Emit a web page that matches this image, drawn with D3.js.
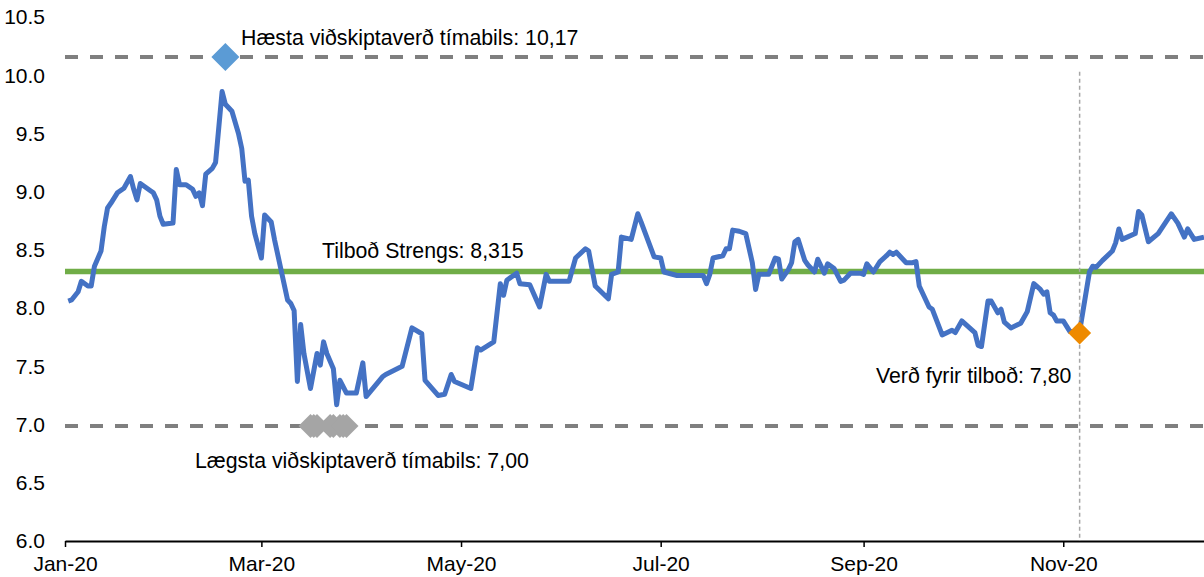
<!DOCTYPE html>
<html>
<head>
<meta charset="utf-8">
<script src="https://cdn.jsdelivr.net/npm/d3@7"></script>
<style>
	body { margin: 0; background: #fff; }
	svg { display: block; font-family: "Liberation Sans", Arial, sans-serif; }
	.axis text { font-size: 21px; fill: #000; }
	.note { font-size: 21.3px; fill: #000; }
</style>
</head>
<body>
<div id="chart"></div>
<script>
// closing price of the share, 2020
var priceDates = [
	"2020-01-02", "2020-01-03", "2020-01-05", "2020-01-06", "2020-01-08", "2020-01-09", "2020-01-10", "2020-01-12",
	"2020-01-13", "2020-01-14", "2020-01-15", "2020-01-17", "2020-01-19", "2020-01-21", "2020-01-22", "2020-01-23",
	"2020-01-24", "2020-01-27", "2020-01-28", "2020-01-29", "2020-01-30", "2020-01-31", "2020-02-03", "2020-02-04",
	"2020-02-05", "2020-02-07", "2020-02-09", "2020-02-10", "2020-02-11", "2020-02-12", "2020-02-13", "2020-02-15",
	"2020-02-16", "2020-02-18", "2020-02-19", "2020-02-21", "2020-02-23", "2020-02-24", "2020-02-25", "2020-02-26",
	"2020-02-27", "2020-02-28", "2020-03-01", "2020-03-02", "2020-03-04", "2020-03-05", "2020-03-07", "2020-03-09",
	"2020-03-10", "2020-03-11", "2020-03-12", "2020-03-13", "2020-03-14", "2020-03-16", "2020-03-18", "2020-03-19",
	"2020-03-20", "2020-03-21", "2020-03-23", "2020-03-24", "2020-03-25", "2020-03-27", "2020-03-30", "2020-04-01",
	"2020-04-02", "2020-04-07", "2020-04-08", "2020-04-13", "2020-04-16", "2020-04-19", "2020-04-20", "2020-04-24",
	"2020-04-26", "2020-04-28", "2020-04-29", "2020-05-04", "2020-05-06", "2020-05-07", "2020-05-11", "2020-05-13",
	"2020-05-14", "2020-05-15", "2020-05-18", "2020-05-19", "2020-05-22", "2020-05-25", "2020-05-27", "2020-05-28",
	"2020-06-03", "2020-06-05", "2020-06-08", "2020-06-09", "2020-06-11", "2020-06-15", "2020-06-16", "2020-06-18",
	"2020-06-19", "2020-06-22", "2020-06-24", "2020-06-25", "2020-06-29", "2020-07-01", "2020-07-02", "2020-07-06",
	"2020-07-14", "2020-07-15", "2020-07-16", "2020-07-17", "2020-07-20", "2020-07-21", "2020-07-22", "2020-07-23",
	"2020-07-25", "2020-07-27", "2020-07-29", "2020-07-30", "2020-07-31", "2020-08-03", "2020-08-05", "2020-08-06",
	"2020-08-07", "2020-08-09", "2020-08-10", "2020-08-11", "2020-08-12", "2020-08-14", "2020-08-15", "2020-08-17",
	"2020-08-18", "2020-08-20", "2020-08-21", "2020-08-23", "2020-08-25", "2020-08-26", "2020-08-28", "2020-08-31",
	"2020-09-01", "2020-09-02", "2020-09-04", "2020-09-06", "2020-09-08", "2020-09-09", "2020-09-10", "2020-09-11",
	"2020-09-14", "2020-09-16", "2020-09-17", "2020-09-18", "2020-09-21", "2020-09-22", "2020-09-25", "2020-09-28",
	"2020-09-29", "2020-10-01", "2020-10-05", "2020-10-06", "2020-10-07", "2020-10-09", "2020-10-10", "2020-10-12",
	"2020-10-13", "2020-10-14", "2020-10-16", "2020-10-19", "2020-10-21", "2020-10-23", "2020-10-25", "2020-10-26",
	"2020-10-27", "2020-10-28", "2020-10-29", "2020-10-30", "2020-11-01", "2020-11-03", "2020-11-06", "2020-11-09",
	"2020-11-10", "2020-11-11", "2020-11-13", "2020-11-16", "2020-11-17", "2020-11-18", "2020-11-19", "2020-11-23",
	"2020-11-24", "2020-11-25", "2020-11-27", "2020-11-30", "2020-12-04", "2020-12-06", "2020-12-08", "2020-12-09",
	"2020-12-11", "2020-12-14"
];
var priceValues = [
	8.06, 8.07, 8.14, 8.23, 8.19, 8.19, 8.36, 8.49,
	8.70, 8.86, 8.90, 8.99, 9.03, 9.13, 9.02, 8.93,
	9.07, 9.01, 8.99, 8.93, 8.79, 8.72, 8.73, 9.19,
	9.06, 9.06, 9.02, 8.96, 8.99, 8.88, 9.15, 9.20,
	9.25, 9.86, 9.75, 9.69, 9.50, 9.37, 9.09, 9.10,
	8.79, 8.64, 8.43, 8.80, 8.74, 8.59, 8.33, 8.07,
	8.04, 7.98, 7.37, 7.86, 7.61, 7.31, 7.61, 7.51,
	7.71, 7.61, 7.48, 7.17, 7.38, 7.27, 7.27, 7.53,
	7.24, 7.41, 7.43, 7.50, 7.83, 7.78, 7.38, 7.25,
	7.26, 7.43, 7.37, 7.31, 7.66, 7.64, 7.71, 8.21,
	8.11, 8.24, 8.30, 8.21, 8.20, 8.01, 8.29, 8.23,
	8.23, 8.43, 8.51, 8.49, 8.19, 8.08, 8.29, 8.31,
	8.61, 8.59, 8.81, 8.74, 8.44, 8.43, 8.31, 8.28,
	8.28, 8.21, 8.29, 8.43, 8.45, 8.51, 8.51, 8.67,
	8.66, 8.64, 8.39, 8.16, 8.29, 8.29, 8.43, 8.42,
	8.25, 8.33, 8.39, 8.57, 8.59, 8.41, 8.37, 8.31,
	8.42, 8.30, 8.38, 8.34, 8.23, 8.24, 8.30, 8.30,
	8.29, 8.38, 8.31, 8.40, 8.45, 8.48, 8.46, 8.48,
	8.39, 8.39, 8.40, 8.19, 8.01, 7.99, 7.77, 7.81,
	7.79, 7.89, 7.79, 7.68, 7.67, 8.06, 8.06, 7.96,
	7.99, 7.88, 7.83, 7.87, 7.97, 8.21, 8.16, 8.12,
	8.14, 7.96, 7.94, 7.89, 7.89, 7.80, 7.80, 8.31,
	8.36, 8.35, 8.41, 8.49, 8.56, 8.68, 8.59, 8.64,
	8.83, 8.80, 8.57, 8.64, 8.81, 8.73, 8.61, 8.68,
	8.59, 8.61
];

// reference levels
var highPrice = 10.17;
var lowPrice = 7.00;
var offerPrice = 8.315;
var preOfferPrice = 7.80;

var highDates = ["2020-02-19"];
var lowDates = ["2020-03-16", "2020-03-17", "2020-03-18", "2020-03-22", "2020-03-23", "2020-03-25", "2020-03-26", "2020-03-27"];
var preOfferDate = "2020-11-06";

var xDomain = ["2020-01-01", "2020-12-14"];
var xTickDates = ["2020-01-01", "2020-03-01", "2020-05-01", "2020-07-01", "2020-09-01", "2020-11-01"];
var yTicks = [6.0, 6.5, 7.0, 7.5, 8.0, 8.5, 9.0, 9.5, 10.0, 10.5];

var labelHigh = "Hæsta viðskiptaverð tímabils: 10,17";
var labelLow = "Lægsta viðskiptaverð tímabils: 7,00";
var labelOffer = "Tilboð Strengs: 8,315";
var labelPreOffer = "Verð fyrir tilboð: 7,80";

function Chart (targetDomElement) {
	var chartObject = {};
	var parseDate = d3.timeParse("%Y-%m-%d");

	var width = 1204;
	var height = 577;
	var left = 65;
	var right = 1204;
	var top = 17;
	var bottom = 541;
	var svg, x, y;

	function constructor (targetDomElement) {
		svg = d3.select(targetDomElement)
			.append("svg")
			.attr("width", width)
			.attr("height", height);

		x = d3.scaleTime()
			.domain(xDomain.map(parseDate))
			.range([left, right]);

		y = d3.scaleLinear()
			.domain([6, 10.5])
			.range([bottom, top]);

		return chartObject;
	}

	chartObject.render = function () {
		var series = priceDates.map(function (d, i) {
			return { date: parseDate(d), value: priceValues[i] };
		});

		// y labels only, no axis line
		svg.append("g")
			.attr("class", "axis")
			.selectAll("text")
			.data(yTicks)
			.enter()
			.append("text")
			.attr("x", 45)
			.attr("y", function (d) { return y(d); })
			.attr("dy", "0.35em")
			.attr("text-anchor", "end")
			.text(d3.format(".1f"));

		// x axis
		var xAxis = svg.append("g")
			.attr("class", "axis")
			.attr("transform", "translate(0," + bottom + ")")
			.call(d3.axisBottom(x)
				.tickValues(xTickDates.map(parseDate))
				.tickFormat(d3.timeFormat("%b-%y"))
				.tickSize(6)
				.tickPadding(9)
				.tickSizeOuter(0));
		xAxis.select(".domain").attr("stroke", "#000").attr("stroke-width", 2);
		xAxis.selectAll(".tick line").attr("stroke", "#000").attr("stroke-width", 1.5);
		xAxis.selectAll(".tick text").attr("font-family", null).attr("font-size", null);

		// dashed high / low levels
		svg.selectAll(".level")
			.data([highPrice, lowPrice])
			.enter()
			.append("line")
			.attr("class", "level")
			.attr("x1", left)
			.attr("x2", right)
			.attr("y1", function (d) { return y(d) + 1.5; })
			.attr("y2", function (d) { return y(d) + 1.5; })
			.attr("stroke", "#7f7f7f")
			.attr("stroke-width", 4)
			.attr("stroke-dasharray", "13,12");

		// offer level
		svg.append("line")
			.attr("x1", left)
			.attr("x2", right)
			.attr("y1", y(offerPrice))
			.attr("y2", y(offerPrice))
			.attr("stroke", "#70ad47")
			.attr("stroke-width", 5.5);

		// price line
		svg.append("path")
			.datum(series)
			.attr("fill", "none")
			.attr("stroke", "#4472c4")
			.attr("stroke-width", 5)
			.attr("stroke-linejoin", "round")
			.attr("d", d3.line()
				.x(function (d) { return x(d.date); })
				.y(function (d) { return y(d.value); }));

		// marker for date before offer
		svg.append("line")
			.attr("x1", x(parseDate(preOfferDate)))
			.attr("x2", x(parseDate(preOfferDate)))
			.attr("y1", y(10.03))
			.attr("y2", y(6))
			.attr("stroke", "#a6a6a6")
			.attr("stroke-width", 1.5)
			.attr("stroke-dasharray", "4,3");

		drawDiamonds(lowDates, lowPrice, 12, "#a5a5a5");
		drawDiamonds(highDates, highPrice, 14, "#5b9bd5");
		drawDiamonds([preOfferDate], preOfferPrice, 11.5, "#ee8a00");

		// notes
		var notes = [
			{ text: labelHigh, x: 241, y: 45 },
			{ text: labelOffer, x: 322, y: 258 },
			{ text: labelLow, x: 195, y: 468 },
			{ text: labelPreOffer, x: 876, y: 383 }
		];
		svg.selectAll(".note")
			.data(notes)
			.enter()
			.append("text")
			.attr("class", "note")
			.attr("x", function (d) { return d.x; })
			.attr("y", function (d) { return d.y; })
			.text(function (d) { return d.text; });
	};

	function drawDiamonds (dates, value, r, colour) {
		svg.append("g")
			.selectAll("path")
			.data(dates)
			.enter()
			.append("path")
			.attr("transform", function (d) { return "translate(" + x(parseDate(d)) + "," + (y(value) + 1.5) + ")"; })
			.attr("d", "M0," + (-r) + "L" + r + ",0L0," + r + "L" + (-r) + ",0Z")
			.attr("fill", colour);
	}

	return constructor(targetDomElement);
}

var chart = Chart(document.getElementById("chart"));
chart.render();
</script>
</body>
</html>
